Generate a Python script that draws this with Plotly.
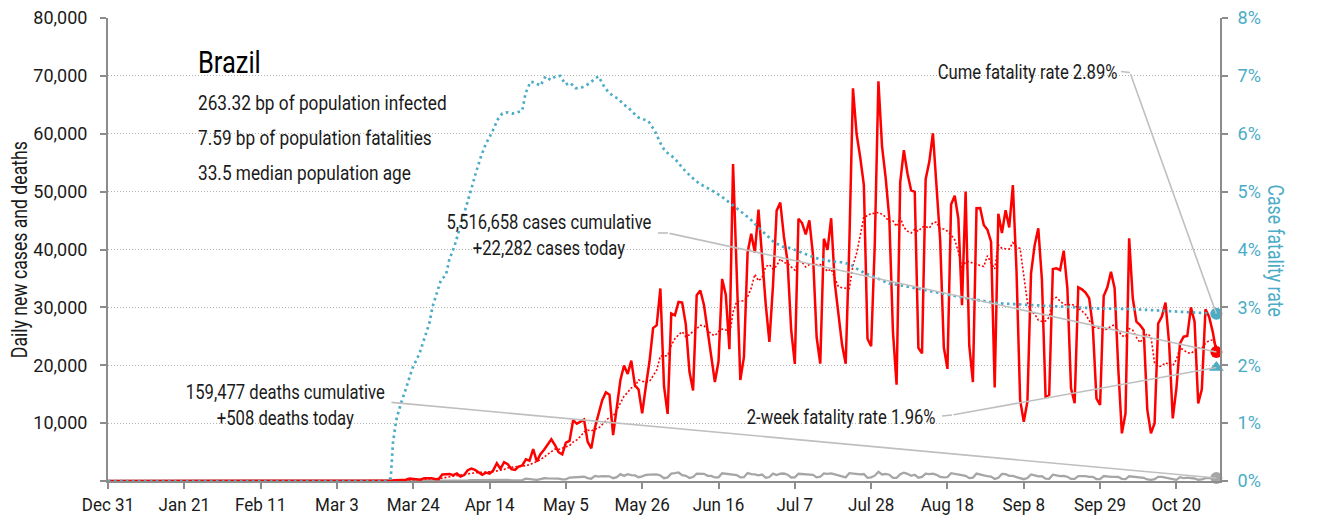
import pandas as pd
import plotly.graph_objects as go

# ---------------- data ----------------
AXIS_START = "2019-12-31"
AXIS_END = "2020-11-01"
END_DATE = "2020-10-31"

tick_dates = ["2019-12-31", "2020-01-21", "2020-02-11", "2020-03-03", "2020-03-24",
              "2020-04-14", "2020-05-05", "2020-05-26", "2020-06-16", "2020-07-07",
              "2020-07-28", "2020-08-18", "2020-09-08", "2020-09-29", "2020-10-20"]
tick_labels = ["Dec 31", "Jan 21", "Feb 11", "Mar 3", "Mar 24", "Apr 14", "May 5",
               "May 26", "Jun 16", "Jul 7", "Jul 28", "Aug 18", "Sep 8", "Sep 29", "Oct 20"]

y_ticks = [0, 10000, 20000, 30000, 40000, 50000, 60000, 70000, 80000]
y_tick_labels = ["", "10,000", "20,000", "30,000", "40,000", "50,000", "60,000", "70,000", "80,000"]
cfr_ticks = [0, 0.01, 0.02, 0.03, 0.04, 0.05, 0.06, 0.07, 0.08]
cfr_tick_labels = ["0%", "1%", "2%", "3%", "4%", "5%", "6%", "7%", "8%"]

# daily new cases (last value is END_DATE)
daily_cases = [
    1, 0, 0, 1,
    0, 0, 0, 2, 5, 5, 6, 6, 6, 6, 14, 25, 21, 23, 79, 34, 57, 137, 193, 283, 224, 418, 345,
    310, 232, 482, 502, 487, 352, 323, 1138,
    1119, 1208, 1012, 1304, 770, 1031, 1873, 2136, 1922, 1546, 1089, 1442, 1261, 1832, 3058,
    2105, 3257, 2917, 2055, 1927, 2498, 2678, 3735, 3503, 5514, 3379, 4613, 5385, 6276, 7218,
    6209, 4970, 4588, 6633, 6935, 10503, 9888, 10222, 10611, 6760, 5632, 9258, 11385, 13944,
    15305, 14919, 7938, 13140, 17408, 19951, 18508, 20803, 16508, 15813, 11687, 16324, 20599,
    26417, 26928, 33274, 16409,
    11598, 28936, 28633, 30925, 30830, 27075, 18912, 15654, 32091, 32913, 30412, 25982, 21704,
    17110, 20647, 34918, 32188, 22765, 54771, 34666, 17459, 21432, 39436, 42725, 39483, 46907,
    38693, 30476, 24052, 33846,
    46712, 48105, 42223, 37923, 26051, 20229, 45305, 44571, 42619, 45048, 39023, 24831, 20286,
    41857, 39924, 45403, 34177, 28532, 23529, 20257, 41008, 67860, 59961, 55891, 51147, 24578,
    23284, 40816, 69074, 57837, 52383,
    45392, 25800, 16641, 51603, 57152, 53139, 50230, 49970, 23010, 22048, 52160, 55155, 60091,
    50644, 41576, 23101, 19373, 47784, 49298, 45323, 30355, 50032, 23421, 17078, 47134, 47161,
    44235, 43412, 41350, 16158, 46170,
    42850, 46800, 43800, 51130, 36400, 14000, 10250, 13700, 35860, 40760, 43650, 34750, 14570,
    14860, 36630, 36750, 36450, 39800, 33300, 16010, 13420, 33470, 33120, 32550, 31570, 26670,
    14280, 13130, 31970, 33470,
    36160, 33300, 19480, 8240, 11700, 41930, 31570, 27530, 26960, 26100, 12270, 8240, 9970,
    27250, 28400, 30820, 23780, 10830, 16010, 23780, 24930, 25050, 30000, 27530, 13420, 15840,
    29660, 28400, 25800, 22282,
]

# daily deaths (last value is END_DATE)
daily_deaths = [
    0, 0, 0, 0,
    0, 0, 0, 0, 0, 0, 0, 0, 0, 0, 0, 0, 0, 0, 0, 0,
    1, 3, 2, 5, 7, 7, 9, 12, 13, 18, 15, 22, 22, 23, 42,
    40, 58, 60, 73, 54, 67, 114, 133, 141, 115, 68, 99, 105, 204, 204, 188, 217, 206, 115, 113,
    166, 165, 407, 357, 346, 189, 338, 474, 449, 435,
    428, 421, 275, 296, 600, 615, 610, 751, 730, 496, 396, 881, 749, 844, 824, 816, 485, 674,
    1179, 888, 1188, 1001, 965, 653, 807, 1039, 1086, 1156, 1124, 956, 480,
    623, 1262, 1349, 1473, 1005, 904, 525, 679, 1272, 1274, 1239, 909, 892, 612, 627, 1338,
    1269, 1238, 1206, 1022, 641, 654, 1374, 1185, 1141, 990, 1109, 552, 692, 1280,
    1038, 1252, 1290, 1091, 602, 620, 1254, 1223, 1220, 1214, 1071, 631, 733, 1300, 1233, 1322,
    1163, 921, 716, 632, 1367, 1284, 1311, 1156, 1211, 555, 627, 921, 1595, 1129, 1212,
    1088, 541, 561, 1154, 1437, 1237, 905, 1079, 572, 703, 1274, 1175, 1262, 1060, 709, 620,
    684, 1352, 1212, 1204, 1054, 892, 494, 565, 1271, 1085, 984, 855, 758, 366, 553,
    1215, 1184, 888, 874, 682, 447, 310, 504, 1136, 983, 814, 821, 415, 381, 1090, 987, 829,
    858, 739, 363, 377, 836, 869, 831, 729, 729, 335, 317, 863, 733,
    729, 728, 695, 367, 323, 819, 734, 730, 639, 558, 262, 201, 309, 716, 713, 571, 461, 230,
    201, 666, 497, 571, 527, 432, 220, 263, 487, 510, 513, 508,
]

# cumulative case fatality rate (%), read at day offsets from AXIS_START
cfr_day = [0, 76.8, 77.8, 78.4, 79.3, 80.6, 82, 83.8, 85.7, 87, 88.4, 89.3, 90.7, 91.6, 93,
           93.9, 95.3, 96.7, 98.5, 99.9, 101.2, 102.6, 104, 105.8, 107.2, 108.5, 109.9, 111.3,
           112.6, 114, 114.9, 116.3, 117.6, 119, 120.4, 121.8, 123.1, 124.5, 125.9, 127.2,
           128.6, 130, 131.4, 132.7, 134.1, 135, 136.4, 137.8, 139.1, 140.5, 141.8, 143.2,
           144.6, 146, 147.3, 148.7, 149.6, 150.5, 151.9, 153.3, 154.6, 156, 158.2, 160.4,
           162.7, 165, 167.3, 169.6, 171.9, 174.2, 176.5, 178.8, 181.1, 183.4, 185.7, 188,
           190.3, 192.6, 194.9, 197.2, 199.5, 201.8, 204.1, 206, 208.3, 210.6, 212.8, 215.1,
           217.4, 219.7, 222, 226.8, 236, 245.1, 254.3, 263.5, 272.6, 281.8, 291, 300.1, 305]
cfr_pct = [0, 0, 0.05, 0.65, 1.05, 1.34, 1.6, 1.95, 2.2, 2.44, 2.72, 3.01, 3.3, 3.47, 3.56,
           3.82, 4.05, 4.34, 4.74, 5.03, 5.32, 5.6, 5.83, 6.04, 6.24, 6.35, 6.37, 6.35, 6.37,
           6.4, 6.7, 6.9, 6.88, 6.83, 6.99, 6.93, 6.99, 7.0, 6.85, 6.88, 6.79, 6.79, 6.83, 6.88,
           6.96, 6.99, 6.83, 6.71, 6.65, 6.6, 6.51, 6.45, 6.36, 6.28, 6.25, 6.22, 6.13, 6.05,
           5.85, 5.7, 5.64, 5.57, 5.4, 5.26, 5.14, 5.06, 4.98, 4.88, 4.77, 4.65, 4.54, 4.39,
           4.25, 4.12, 4.05, 4.02, 3.96, 3.9, 3.85, 3.82, 3.79, 3.78, 3.75, 3.67, 3.59, 3.53,
           3.47, 3.41, 3.39, 3.36, 3.34, 3.27, 3.16, 3.07, 3.04, 3.01, 2.98, 2.97, 2.94, 2.91,
           2.89]

country = "Brazil"
info_lines = ["263.32 bp of population infected", "7.59 bp of population fatalities",
              "33.5 median population age"]
cum_cases = 5516658
cum_deaths = 159477
cume_fatality_pct = 2.89
two_week_fatality_pct = 1.96

# ---------------- styling ----------------
FONT = "Roboto, Liberation Sans, sans-serif"
RED = "#ff0000"
BLUE = "#4bacc6"
GRAY = "#a6a6a6"
LEADER = "#bfbfbf"
AXIS = "#8c8c8c"
TEXT = "#1a1a1a"

start = pd.Timestamp(AXIS_START)
case_dates = list(pd.date_range(end=END_DATE, periods=len(daily_cases), freq="D"))
death_dates = list(pd.date_range(end=END_DATE, periods=len(daily_deaths), freq="D"))
avg7 = pd.Series(daily_cases, dtype=float).rolling(7).mean()
cfr_x = [start + pd.Timedelta(days=d) for d in cfr_day]
cfr_y = [v / 100 for v in cfr_pct]
last = pd.Timestamp(END_DATE)

fig = go.Figure()
fig.add_trace(go.Scatter(x=[start] + death_dates, y=[0] + daily_deaths, mode="lines",
                         line=dict(color=GRAY, width=2.3), hoverinfo="skip"))
fig.add_trace(go.Scatter(x=case_dates, y=avg7, mode="lines",
                         line=dict(color=RED, width=1.6, dash="2px,2px"), hoverinfo="skip"))
fig.add_trace(go.Scatter(x=[start] + case_dates, y=[0] + daily_cases, mode="lines",
                         line=dict(color=RED, width=2.5), hoverinfo="skip"))
fig.add_trace(go.Scatter(x=cfr_x, y=cfr_y, yaxis="y2", mode="lines",
                         line=dict(color=BLUE, width=2.7, dash="2.5px,3.5px"), hoverinfo="skip"))
# end markers
fig.add_trace(go.Scatter(x=[last], y=[daily_cases[-1]], mode="markers", cliponaxis=False,
                         marker=dict(color=RED, size=12, symbol="circle"), hoverinfo="skip"))
fig.add_trace(go.Scatter(x=[last], y=[daily_deaths[-1]], mode="markers", cliponaxis=False,
                         marker=dict(color=GRAY, size=12, symbol="circle"), hoverinfo="skip"))
fig.add_trace(go.Scatter(x=[last], y=[cume_fatality_pct / 100], yaxis="y2", mode="markers",
                         cliponaxis=False, marker=dict(color=BLUE, size=12, symbol="circle"),
                         hoverinfo="skip"))
fig.add_trace(go.Scatter(x=[last], y=[two_week_fatality_pct / 100], yaxis="y2", mode="markers",
                         cliponaxis=False, marker=dict(color=BLUE, size=13, symbol="triangle-up"),
                         hoverinfo="skip"))

# plot-area geometry (pixels) used for placing the text annotations
L, R, T, B = 108, 1220, 18, 481
def px(x):
    return (x - L) / (R - L)
def py(y):
    return (B - y) / (B - T)

ann = []
ann.append(dict(text=country, x=px(196), y=py(62), xref="paper", yref="paper",
                xanchor="left", yanchor="middle", align="left", showarrow=False,
                font=dict(size=31, color="#000000")))
for i, line in enumerate(info_lines):
    ann.append(dict(text=line, x=px(196), y=py(103 + 35 * i), xref="paper", yref="paper",
                    xanchor="left", yanchor="middle", align="left", showarrow=False,
                    font=dict(size=21, color=TEXT)))

ann.append(dict(text=f"{cum_cases:,} cases cumulative<br>+{daily_cases[-1]:,} cases today",
                x=px(549), y=py(235), xref="paper", yref="paper", xanchor="center",
                yanchor="middle", showarrow=False, font=dict(size=20.3, color=TEXT)))
ann.append(dict(text=f"{cum_deaths:,} deaths cumulative<br>+{daily_deaths[-1]:,} deaths today",
                x=px(285), y=py(405), xref="paper", yref="paper", xanchor="center",
                yanchor="middle", showarrow=False, font=dict(size=20.3, color=TEXT)))
ann.append(dict(text=f"Cume fatality rate {cume_fatality_pct:.2f}%", x=px(1027), y=py(72),
                xref="paper", yref="paper", xanchor="center", yanchor="middle",
                showarrow=False, font=dict(size=20.3, color=TEXT)))
ann.append(dict(text=f"2-week fatality rate {two_week_fatality_pct:.2f}%", x=px(841), y=py(417),
                xref="paper", yref="paper", xanchor="center", yanchor="middle",
                showarrow=False, font=dict(size=20.3, color=TEXT)))

# leader lines: arrow-less annotations ending at the data points
def leader(yval, yref, bend_x, bend_y, end_x, end_y):
    return dict(x=last, y=yval, xref="x", yref=yref, text="", showarrow=True,
                arrowhead=0, arrowwidth=1.6, arrowcolor=LEADER,
                ax=bend_x - end_x, ay=bend_y - end_y, axref="pixel", ayref="pixel",
                standoff=0, startstandoff=0)

x_end = 1216.4
ann.append(leader(daily_cases[-1], "y", 668, 233, x_end, 352))
ann.append(leader(cume_fatality_pct / 100, "y2", 1130, 72.5, x_end, 313.7))
ann.append(leader(two_week_fatality_pct / 100, "y2", 952, 415, x_end, 367.6))
ann.append(leader(daily_deaths[-1], "y", 390, 402.3, x_end, 478.1))

# axis titles
ann.append(dict(text="Daily new cases and deaths", x=px(19), y=py(250), xref="paper",
                yref="paper", textangle=-90, showarrow=False, xanchor="center",
                yanchor="middle", font=dict(size=21.5, color=TEXT)))
ann.append(dict(text="Case fatality rate", x=px(1276), y=py(250), xref="paper",
                yref="paper", textangle=90, showarrow=False, xanchor="center",
                yanchor="middle", font=dict(size=21.5, color=BLUE)))

shapes = [
    dict(type="line", xref="paper", yref="paper", x0=px(658), x1=px(668), y0=py(233),
         y1=py(233), line=dict(color=LEADER, width=1.6)),
    dict(type="line", xref="paper", yref="paper", x0=px(1121), x1=px(1130), y0=py(71.5),
         y1=py(72.5), line=dict(color=LEADER, width=1.6)),
    dict(type="line", xref="paper", yref="paper", x0=px(942), x1=px(952), y0=py(416),
         y1=py(415), line=dict(color=LEADER, width=1.6)),
]

fig.update_layout(
    width=1317, height=522, autosize=False,
    margin=dict(l=L, r=1317 - R, t=T, b=522 - B, pad=0, autoexpand=False),
    paper_bgcolor="white", plot_bgcolor="white", showlegend=False,
    font=dict(family=FONT, size=20, color=TEXT),
    xaxis=dict(type="date", range=[AXIS_START, AXIS_END], tickvals=tick_dates,
               ticktext=tick_labels, showgrid=False, zeroline=False, showline=True,
               linecolor=AXIS, linewidth=2, ticks="outside", ticklen=6, tickwidth=1.5,
               tickcolor=AXIS, tickfont=dict(size=18.5, color=TEXT), automargin=False),
    yaxis=dict(range=[0, 80000], tickvals=y_ticks, ticktext=y_tick_labels, showgrid=True,
               gridcolor="#b5b5b5", griddash="1px,2px", gridwidth=1, zeroline=False,
               showline=True, linecolor=AXIS, linewidth=2, ticks="outside", ticklen=6,
               tickwidth=1.5, tickcolor=AXIS, tickfont=dict(size=18, color=TEXT),
               ticklabelstandoff=9, automargin=False),
    yaxis2=dict(range=[0, 0.08], overlaying="y", side="right", tickvals=cfr_ticks,
                ticktext=cfr_tick_labels, showgrid=False, zeroline=False, showline=True,
                linecolor=AXIS, linewidth=2, ticks="outside", ticklen=6, tickwidth=1.5,
                tickcolor=AXIS, tickfont=dict(size=18, color=BLUE), ticklabelstandoff=6,
                automargin=False),
    annotations=ann,
    shapes=shapes,
)

# condense glyphs horizontally (the original uses a condensed typeface)
SQUEEZE_JS = """
(function(){
  function sq(sel, f){
    document.querySelectorAll(sel).forEach(function(t){
      var lines = t.querySelectorAll('tspan.line');
      var els = lines.length ? Array.prototype.slice.call(lines) : [t];
      els.forEach(function(e){
        var w = e.getComputedTextLength();
        if (w > 0) {
          e.setAttribute('textLength', (w * f).toFixed(2));
          e.setAttribute('lengthAdjust', 'spacingAndGlyphs');
        }
      });
    });
  }
  document.body.style.margin = '0';
  sq('.annotation-text', 0.82);
  sq('.xtick text', 0.92);
})();
"""

fig.write_html("out.html", post_script=SQUEEZE_JS, config={"displayModeBar": False})
